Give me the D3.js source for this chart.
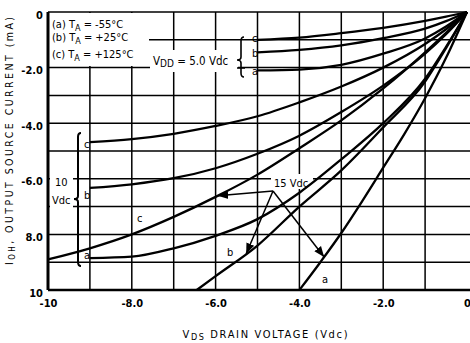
<!DOCTYPE html>
<html>
<head>
<meta charset="utf-8">
<script src="https://cdn.jsdelivr.net/npm/d3@7"></script>
<style>
  html, body { margin: 0; padding: 0; background: #fff; }
  svg { display: block; }
  text { font-family: "Liberation Sans Narrow", "DejaVu Sans Condensed", "Liberation Sans", sans-serif; fill: #000; }
</style>
</head>
<body>
<svg id="chart" width="470" height="343"></svg>
<script>
// Axis ticks: drain voltage (Vdc) and output source current (mA)
const voltageTicks = [-10, -8, -6, -4, -2, 0];
const voltageTickLabels = ["-10", "-8.0", "-6.0", "-4.0", "-2.0", "0"];
const currentTicks = [0, -2, -4, -6, -8, -10];
const currentTickLabels = ["0", "-2.0", "-4.0", "-6.0", "8.0", "10"];
const gridVoltages = [-9, -8, -7, -6, -5, -4, -3, -2, -1];
const gridCurrents = [-1, -2, -3, -4, -5, -6, -7, -8, -9];

// Legend rows: temperature key
const legendKeys = ["(a) T", "(b) T", "(c) T"];
const legendTemps = [" = -55°C", " = +25°C", " = +125°C"];

// I_OH vs V_DS, [Vds, Ioh] pairs; a = -55°C, b = +25°C, c = +125°C
const vdd5a = [[-5, -2.1], [-4, -2.07], [-3, -1.9], [-2, -1.5], [-1, -0.95], [-0.5, -0.52], [0, 0]];
const vdd5b = [[-5, -1.45], [-4, -1.36], [-3, -1.2], [-2, -0.94], [-1, -0.6], [-0.5, -0.33], [0, 0]];
const vdd5c = [[-5, -1.0], [-4, -0.92], [-3, -0.76], [-2, -0.57], [-1, -0.32], [-0.5, -0.17], [0, 0]];

const vdd10a = [[-9, -8.85], [-8, -8.8], [-7, -8.5], [-6, -8.05], [-5, -7.45], [-4, -6.5], [-3, -5.3], [-2, -4.0], [-1, -2.4], [-0.5, -1.25], [0, 0]];
const vdd10b = [[-9, -6.33], [-8, -6.2], [-7, -5.98], [-6, -5.62], [-5, -5.1], [-4, -4.45], [-3, -3.6], [-2, -2.65], [-1, -1.5], [-0.5, -0.8], [0, 0]];
const vdd10c = [[-9, -4.68], [-8, -4.57], [-7, -4.38], [-6, -4.1], [-5, -3.75], [-4, -3.25], [-3, -2.68], [-2, -2.0], [-1, -1.15], [-0.5, -0.62], [0, 0]];

const vdd15a = [[-4, -10], [-3.5, -9.0], [-3, -7.95], [-2.5, -6.8], [-2, -5.6], [-1.5, -4.4], [-1, -3.1], [-0.5, -1.65], [0, 0]];
const vdd15b = [[-6.45, -10], [-6, -9.5], [-5, -8.4], [-4, -7.0], [-3, -5.7], [-2, -4.15], [-1, -2.5], [-0.5, -1.3], [0, 0]];
const vdd15c = [[-10, -8.9], [-9, -8.5], [-8, -8.0], [-7, -7.37], [-6, -6.65], [-5, -5.85], [-4, -4.9], [-3, -3.9], [-2, -2.75], [-1, -1.45], [-0.5, -0.75], [0, 0]];

const svg = d3.select("#chart");
const x = d3.scaleLinear().domain([-10, 0]).range([48, 467]);
const y = d3.scaleLinear().domain([0, -10]).range([12, 290]);

// value of a curve at a given voltage (for placing pointers on it)
function valueAt(series, v) {
  for (let i = 1; i < series.length; i++) {
    const [v0, i0] = series[i - 1], [v1, i1] = series[i];
    if (v >= v0 && v <= v1) return i0 + (i1 - i0) * (v - v0) / (v1 - v0);
  }
  return series[series.length - 1][1];
}

// Grid
const grid = svg.append("g").attr("stroke", "#000").attr("stroke-width", 1.5);
grid.selectAll("line.v").data(gridVoltages).join("line").attr("class", "v")
  .attr("x1", d => x(d)).attr("x2", d => x(d)).attr("y1", y(0)).attr("y2", y(-10));
grid.selectAll("line.h").data(gridCurrents).join("line").attr("class", "h")
  .attr("x1", x(-10)).attr("x2", 470).attr("y1", d => y(d)).attr("y2", d => y(d));
grid.append("line").attr("x1", x(-10)).attr("x2", x(0)).attr("y1", y(0)).attr("y2", y(0));

// White panels behind the annotations
const masks = svg.append("g").attr("fill", "#fff");
masks.append("rect").attr("x", x(-10) + 1).attr("y", y(0) + 1).attr("width", 100).attr("height", 53);
masks.append("rect").attr("x", 150).attr("y", 50).attr("width", 88).attr("height", 22);
masks.append("rect").attr("x", x(-10) + 2).attr("y", 172).attr("width", 23).attr("height", 36);
masks.append("rect").attr("x", 271).attr("y", 174).attr("width", 42).attr("height", 15);

// Axes
const xAxis = d3.axisBottom(x).tickValues(voltageTicks)
  .tickFormat((d, i) => voltageTickLabels[i]).tickSize(0).tickPadding(9);
const yAxis = d3.axisLeft(y).tickValues(currentTicks)
  .tickFormat((d, i) => currentTickLabels[i]).tickSize(0).tickPadding(5);
const gx = svg.append("g").attr("transform", `translate(0,${y(-10)})`).call(xAxis);
const gy = svg.append("g").attr("transform", `translate(${x(-10)},0)`).call(yAxis);
[gx, gy].forEach(g => {
  g.select(".domain").remove();
  g.selectAll("text").attr("font-size", 11).attr("font-weight", "bold")
    .style("font-family", '"Liberation Sans Narrow", "DejaVu Sans Condensed", sans-serif');
});
gy.selectAll("text").attr("dy", "0.55em");
svg.append("line").attr("x1", x(-10)).attr("x2", x(-10)).attr("y1", y(0)).attr("y2", y(-10))
  .attr("stroke", "#000").attr("stroke-width", 3);
svg.append("line").attr("x1", x(-10)).attr("x2", 470).attr("y1", y(-10)).attr("y2", y(-10))
  .attr("stroke", "#000").attr("stroke-width", 2.5);

// Curves
const line = d3.line().x(d => x(d[0])).y(d => y(d[1])).curve(d3.curveMonotoneX);
const curves = [vdd5a, vdd5b, vdd5c, vdd10a, vdd10b, vdd10c, vdd15a, vdd15b, vdd15c];
svg.append("g").selectAll("path").data(curves).join("path")
  .attr("d", line).attr("fill", "none").attr("stroke", "#000")
  .attr("stroke-width", 2.3).attr("stroke-linejoin", "round");

// Legend
const legend = svg.append("text").attr("font-size", 11);
legendKeys.forEach((k, i) => {
  const row = svg.append("text").attr("x", 52).attr("y", [28, 41, 58][i]).attr("font-size", 11);
  row.append("tspan").text(k);
  row.append("tspan").attr("dy", 3).attr("font-size", 9).text("A");
  row.append("tspan").attr("dy", -3).text(legendTemps[i]);
});

// Supply voltage labels
const vdd = svg.append("text").attr("x", 153).attr("y", 65).attr("font-size", 11.5);
vdd.append("tspan").text("V");
vdd.append("tspan").attr("dy", 2).attr("font-size", 10).text("DD");
vdd.append("tspan").attr("dy", -2).text(" = 5.0 Vdc");
svg.append("text").attr("x", 55).attr("y", 186).attr("font-size", 11).text("10");
svg.append("text").attr("x", 52).attr("y", 204).attr("font-size", 11).text("Vdc");
svg.append("text").attr("x", 274).attr("y", 187).attr("font-size", 11).text("15 Vdc");

// Curve letters
const letters = [
  ["c", 252, 42], ["b", 252, 57], ["a", 252, 75],
  ["c", 84, 148], ["b", 84, 199], ["a", 84, 259],
  ["c", 137, 222], ["b", 227, 256], ["a", 322, 283]
];
svg.append("g").selectAll("text").data(letters).join("text")
  .attr("x", d => d[1]).attr("y", d => d[2]).attr("font-size", 11).text(d => d[0]);

// Braces
function brace(xc, y0, y1, ym) {
  return `M${xc + 3},${y0} Q${xc},${y0} ${xc},${y0 + 4} L${xc},${ym - 3} Q${xc},${ym} ${xc - 4},${ym}` +
         ` Q${xc},${ym} ${xc},${ym + 3} L${xc},${y1 - 4} Q${xc},${y1} ${xc + 3},${y1}`;
}
svg.append("path").attr("d", brace(78, 133, 266, 199))
  .attr("fill", "none").attr("stroke", "#000").attr("stroke-width", 2);
svg.append("path").attr("d", brace(241, 37, 77, 60))
  .attr("fill", "none").attr("stroke", "#000").attr("stroke-width", 1.6);
svg.append("line").attr("x1", 237).attr("x2", 245).attr("y1", 68).attr("y2", 68)
  .attr("stroke", "#000").attr("stroke-width", 1.5);

// Pointers from the 15 Vdc label to its curves
svg.append("defs").append("marker").attr("id", "tip")
  .attr("viewBox", "0 0 10 10").attr("refX", 10).attr("refY", 5)
  .attr("markerWidth", 7).attr("markerHeight", 7).attr("orient", "auto-start-reverse")
  .append("path").attr("d", "M0,1 L10,5 L0,9 Z").attr("fill", "#000");
const origin = [x(-4.63), y(-6.44)];
const targets = [[vdd15c, -5.95], [vdd15b, -5.27], [vdd15a, -3.41]];
svg.append("g").selectAll("line").data(targets).join("line")
  .attr("x1", origin[0]).attr("y1", origin[1])
  .attr("x2", d => x(d[1])).attr("y2", d => y(valueAt(d[0], d[1])))
  .attr("stroke", "#000").attr("stroke-width", 1.5).attr("marker-end", "url(#tip)");

// Axis titles
const yt = svg.append("text").attr("transform", "translate(13,141) rotate(-90)")
  .attr("text-anchor", "middle").attr("font-size", 10.5)
  .attr("textLength", 248).attr("lengthAdjust", "spacing");
yt.append("tspan").text("I");
yt.append("tspan").attr("dy", 2).attr("font-size", 8).text("OH");
yt.append("tspan").attr("dy", -2).text(", OUTPUT SOURCE CURRENT (mA)");

const xt = svg.append("text").attr("x", 265).attr("y", 338)
  .attr("text-anchor", "middle").attr("font-size", 11)
  .attr("textLength", 165).attr("lengthAdjust", "spacing");
xt.append("tspan").text("V");
xt.append("tspan").attr("dy", 2).attr("font-size", 9).text("DS");
xt.append("tspan").attr("dy", -2).text(" DRAIN VOLTAGE (Vdc)");
</script>
</body>
</html>
